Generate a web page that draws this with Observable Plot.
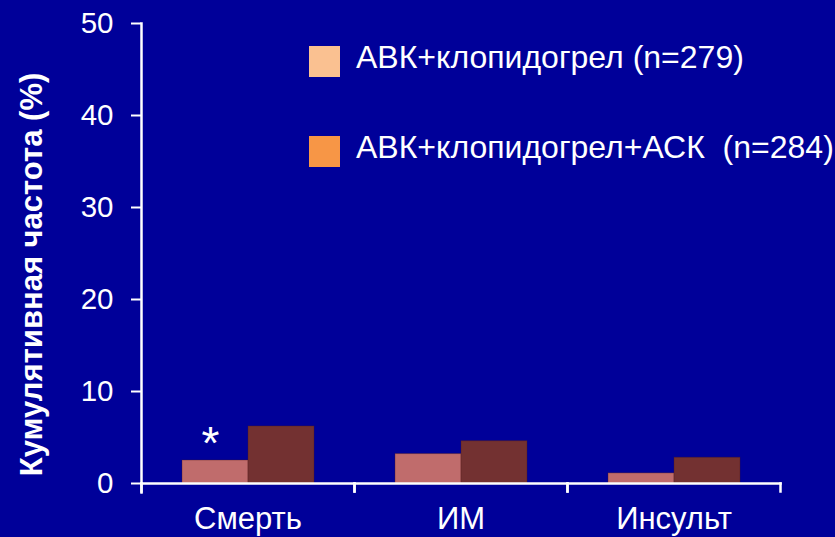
<!DOCTYPE html>
<html><head><meta charset="utf-8">
<script src="https://cdn.jsdelivr.net/npm/d3@7"></script>
<script src="https://cdn.jsdelivr.net/npm/@observablehq/plot@0.6"></script>
<style>
html,body{margin:0;padding:0;background:#000099;}
#wrap{position:relative;width:835px;height:537px;font-family:"Liberation Sans",Arial,sans-serif;}
#wrap svg{display:block;}
.sw{position:absolute;width:31px;height:31px;left:309px;}
.lt{position:absolute;left:356px;color:#fff;font-size:32px;line-height:32px;white-space:pre;}
</style></head>
<body><div id="wrap"></div>
<script>
const categories = ["Смерть", "ИМ", "Инсульт"];
const series = ["АВК+клопидогрел (n=279)", "АВК+клопидогрел+АСК  (n=284)"];
const valuesDual = [2.5, 3.2, 1.1];
const valuesTriple = [6.2, 4.6, 2.8];
const yTicks = [0, 10, 20, 30, 40, 50];
const yLabel = "Кумулятивная частота (%)";
const barColors = ["#c06c6c", "#733131"];
const legendColors = ["#fac191", "#f79646"];
const significance = [{category: "Смерть", series: series[0], value: 2.5, mark: "*"}];

const data = categories.flatMap((c, i) => [
  {category: c, series: series[0], value: valuesDual[i]},
  {category: c, series: series[1], value: valuesTriple[i]}
]);

const font = "'Liberation Sans', Arial, sans-serif";
const chart = Plot.plot({
  width: 835, height: 537,
  marginLeft: 140, marginRight: 54, marginTop: 23, marginBottom: 54,
  style: {background: "#000099", color: "white", fontFamily: font, overflow: "visible"},
  fx: {domain: categories, padding: 0, label: null},
  x: {domain: series, paddingInner: 0, paddingOuter: 0.6, axis: null},
  y: {domain: [0, 50], label: null},
  color: {domain: series, range: barColors},
  marks: [
    Plot.barY(data, {fx: "category", x: "series", y: "value", fill: "series", stroke: "#4a1a1a", strokeOpacity: 0.35, strokeWidth: 1}),
    Plot.text(significance, {fx: "category", x: "series", y: "value", text: "mark", fill: "white", fontSize: 46, dx: -5, dy: -16}),
    Plot.axisY({ticks: yTicks, tickSize: 10, tickPadding: 18, tickFormat: d => d, fontSize: 29.5, label: null, stroke: "white", strokeWidth: 2, fill: "white"}),
    Plot.axisFx({anchor: "bottom", tickSize: 0, tickPadding: 23, fontSize: 31, label: null, fill: "white"}),
    Plot.frame({anchor: "left", facet: "super", insetBottom: -9, stroke: "white", strokeWidth: 2.5}),
    Plot.frame({anchor: "bottom", facet: "super", stroke: "white", strokeWidth: 2.5}),
    Plot.frame({anchor: "left", insetTop: 460, insetBottom: -8, stroke: "white", strokeWidth: 2.5}),
    Plot.frame({anchor: "right", insetTop: 460, insetBottom: -8, stroke: "white", strokeWidth: 2.5}),
    Plot.text([yLabel], {facet: "super", frameAnchor: "left", textAnchor: "middle", rotate: -90, dx: -109, dy: 21, fontWeight: "bold", fontSize: 31, fill: "white"})
  ]
});

const wrap = document.getElementById("wrap");
wrap.appendChild(chart);
const legendTops = [46, 136];
series.forEach((s, i) => {
  const sw = document.createElement("div");
  sw.className = "sw";
  sw.style.top = legendTops[i] + "px";
  sw.style.background = legendColors[i];
  wrap.appendChild(sw);
  const t = document.createElement("div");
  t.className = "lt";
  t.style.top = (legendTops[i] - 5) + "px";
  t.textContent = s;
  wrap.appendChild(t);
});
</script>
</body></html>
